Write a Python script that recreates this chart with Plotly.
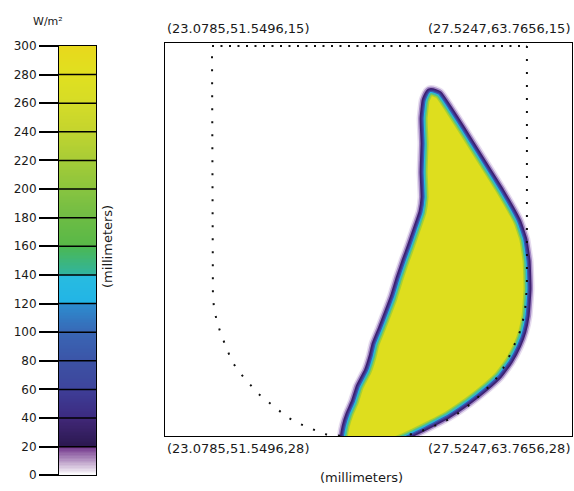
import numpy as np
import plotly.graph_objects as go

# ---------------- data ----------------
# colour scale (W/m^2)
cb_ticks = list(range(0, 301, 20))
cb_levels = np.arange(0.5, 300, 1.0)

# irradiated region outline (mm along section, depth mm)
shape_x = [8.50, 8.69, 8.98, 9.42, 10.00, 10.64, 11.18, 11.37, 11.47, 11.50, 11.44, 11.34,
           11.18, 10.92, 10.60, 10.16, 9.65, 9.01, 8.24, 7.60, 7.03, 7.03, 5.75, 5.78,
           5.85, 5.97, 6.13, 6.29, 6.55, 6.71, 6.80, 7.00, 7.19, 7.38, 7.57, 7.76,
           7.92, 8.11, 8.30, 8.37, 8.34, 8.37, 8.34, 8.40]
shape_z = [16.70, 16.77, 17.21, 17.92, 18.88, 19.94, 20.94, 21.52, 22.22, 23.12, 23.99, 24.50,
           24.95, 25.46, 25.91, 26.33, 26.75, 27.20, 27.62, 27.94, 28.19, 28.58, 28.58, 28.10,
           27.68, 27.29, 26.91, 26.40, 25.88, 25.37, 24.98, 24.47, 23.96, 23.44, 22.80, 22.22,
           21.77, 21.20, 20.62, 20.10, 19.27, 18.31, 17.50, 16.93]

# dotted boundary of the section
top_x = [1.50, 11.56]
top_z = [15.10, 15.10]
bnd_x = [11.56, 11.56, 11.53, 11.50, 11.40, 11.28, 11.12, 10.99, 10.80, 10.48, 10.16, 9.90,
         9.58, 9.20, 8.85, 8.46, 8.08, 7.67, 7.51]
bnd_z = [15.10, 23.03, 23.44, 23.86, 24.31, 24.73, 25.05, 25.37, 25.75, 26.24, 26.52, 26.81,
         27.07, 27.36, 27.55, 27.71, 27.87, 27.98, 27.98]
lft_x = [5.59, 5.17, 4.76, 4.22, 3.90, 3.58, 3.26, 2.94, 2.68, 2.40, 2.14, 1.95, 1.79, 1.66,
         1.57, 1.53, 1.50]
lft_z = [27.98, 27.94, 27.78, 27.55, 27.36, 27.10, 26.81, 26.56, 26.24, 25.91, 25.53, 25.02,
         24.63, 24.21, 23.80, 23.38, 15.10]

corner_labels = ["(23.0785,51.5496,15)", "(27.5247,63.7656,15)",
                 "(23.0785,51.5496,28)", "(27.5247,63.7656,28)"]

# ---------------- styles ----------------
FONT = "DejaVu Sans"
TXT = "#1a1a1a"

cscale = [
    [0.0, "#ffffff"], [0.0667, "#6e3088"],
    [0.0667, "#2c1850"], [0.1333, "#402878"],
    [0.1333, "#3c2a80"], [0.2, "#3e3e98"],
    [0.2, "#3e459c"], [0.2667, "#3c52a4"],
    [0.2667, "#3b55a8"], [0.3333, "#3966b4"],
    [0.3333, "#3868b6"], [0.4, "#2c8ed0"],
    [0.4, "#22b4e6"], [0.4667, "#28bce0"],
    [0.4667, "#30b4a0"], [0.5333, "#4cb850"],
    [0.5333, "#58b848"], [0.6, "#6cbc44"],
    [0.6, "#70bc44"], [0.6667, "#88c440"],
    [0.6667, "#8cc43c"], [0.7333, "#a4cc38"],
    [0.7333, "#a8cc36"], [0.8, "#c0d430"],
    [0.8, "#c4d42e"], [0.8667, "#d4dc28"],
    [0.8667, "#d6dc26"], [0.9333, "#e0e020"],
    [0.9333, "#e0e020"], [1.0, "#e8d81c"],
]

fig = go.Figure()

# colour bar drawn as a heatmap on its own axes
fig.add_trace(go.Heatmap(
    x=[0], y=cb_levels, z=[[v] for v in cb_levels],
    colorscale=cscale, zmin=0, zmax=300, showscale=False,
    xaxis="x2", yaxis="y2", hoverinfo="skip"))

# irradiated region: layered halo + filled core
sx = shape_x + shape_x[:1]
sz = shape_z + shape_z[:1]
SM = 0.3
halo = [("#e6dcef", 19), ("#a58cc6", 16), ("#3e2070", 13), ("#3c3590", 10),
        ("#3a5cb0", 7.5), ("#22b8e8", 5)]
for col, w in halo:
    fig.add_trace(go.Scatter(x=sx, y=sz, mode="lines",
                             line=dict(color=col, width=w, shape="spline", smoothing=SM),
                             hoverinfo="skip", showlegend=False))
fig.add_trace(go.Scatter(x=sx, y=sz, mode="lines", fill="toself", fillcolor="#dede1e",
                         line=dict(color="rgba(120,196,70,0.55)", width=3, shape="spline",
                                   smoothing=SM),
                         hoverinfo="skip", showlegend=False))

# dotted section boundary
fig.add_trace(go.Scatter(x=top_x, y=top_z, mode="lines",
                         line=dict(color="#111", width=2, dash="2px,6.5px"),
                         hoverinfo="skip", showlegend=False))
for xx, zz in ((bnd_x, bnd_z), (lft_x, lft_z)):
    fig.add_trace(go.Scatter(x=xx, y=zz, mode="lines",
                             line=dict(color="#111", width=2, dash="2px,11px"),
                             hoverinfo="skip", showlegend=False))

shapes = [dict(type="line", xref="x2 domain", x0=0, x1=1, yref="y2", y0=v, y1=v,
               line=dict(color="#000", width=1.5), layer="above")
          for v in cb_ticks[1:-1]]

ann_font = dict(family=FONT, size=13, color=TXT)
annotations = [
    dict(text=corner_labels[0], x=0.2875, y=0.9552, xanchor="left", yanchor="middle"),
    dict(text=corner_labels[1], x=0.9965, y=0.9552, xanchor="right", yanchor="middle"),
    dict(text=corner_labels[2], x=0.2875, y=0.0754, xanchor="left", yanchor="middle"),
    dict(text=corner_labels[3], x=0.9965, y=0.0754, xanchor="right", yanchor="middle"),
    dict(text="(millimeters)", x=0.6298, y=0.0143, xanchor="center", yanchor="middle"),
    dict(text="(millimeters)", x=0.1882, y=0.497, xanchor="center", yanchor="middle",
         textangle=-90),
    dict(text="W/m²", x=0.0836, y=0.9695, xanchor="center", yanchor="middle",
         font=dict(family=FONT, size=11, color=TXT)),
]
for a in annotations:
    a.update(xref="paper", yref="paper", showarrow=False)
    a.setdefault("font", ann_font)

axis_common = dict(showgrid=False, zeroline=False, showline=True, mirror=True,
                   linecolor="#000", linewidth=1)

fig.update_layout(
    width=574, height=491, margin=dict(l=0, r=0, t=0, b=0),
    paper_bgcolor="white", plot_bgcolor="white", showlegend=False,
    xaxis=dict(domain=[0.2875, 0.9965], range=[0, 13], showticklabels=False, ticks="",
               **axis_common),
    yaxis=dict(domain=[0.0998, 0.9246], range=[28, 15], showticklabels=False, ticks="",
               **axis_common),
    xaxis2=dict(domain=[0.1028, 0.1672], range=[-0.5, 0.5], anchor="y2",
                showticklabels=False, ticks="", **axis_common),
    yaxis2=dict(domain=[0.0183, 0.9185], range=[0, 300], anchor="x2", side="left",
                ticks="outside", ticklen=19, tickwidth=1.5, tickcolor="#000",
                tickmode="array", tickvals=cb_ticks, ticktext=[str(v) for v in cb_ticks],
                tickfont=dict(family=FONT, size=12, color=TXT), **axis_common),
    shapes=shapes,
    annotations=annotations,
)

fig.write_html("out.html")
